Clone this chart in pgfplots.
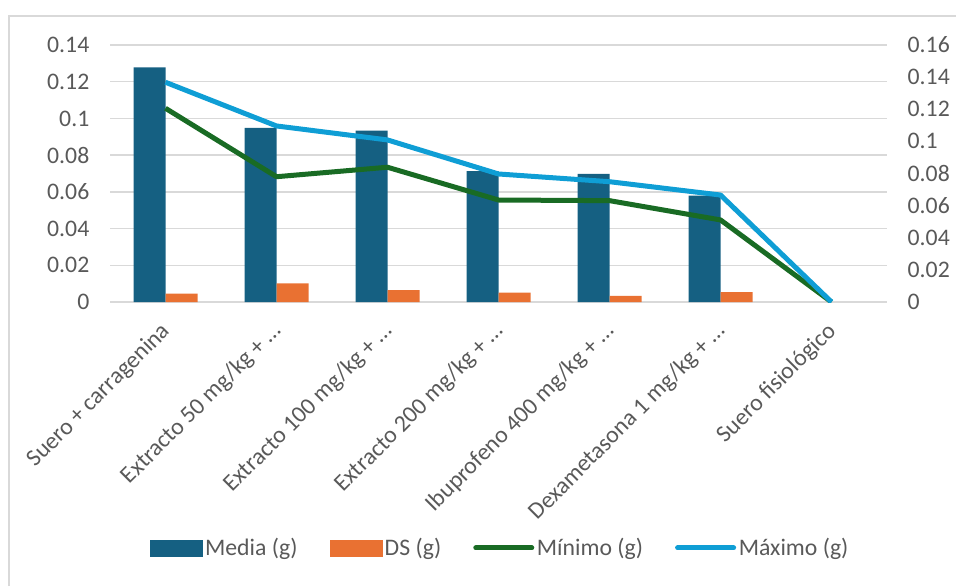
\documentclass[border=0pt]{standalone}
\usepackage{pgfplots}
\pgfplotsset{compat=1.18}
\usepackage{fontspec}
\setmainfont{Carlito}
\definecolor{mediacol}{HTML}{156082}
\definecolor{dscol}{HTML}{E97132}
\definecolor{mincol}{HTML}{196B24}
\definecolor{maxcol}{HTML}{0F9ED5}
\definecolor{txtcol}{HTML}{595959}
\definecolor{gridcol}{HTML}{D9D9D9}
\begin{document}
\begin{tikzpicture}
\path[use as bounding box] (0,0) rectangle (717pt,439.5pt);
\draw[gridcol, line width=0.9pt] (6.75pt,0pt) -- (6.75pt,427.5pt) -- (717pt,427.5pt);
\pgfplotsset{
  every axis/.append style={
    scale only axis, width=582.75pt, height=192.75pt,
    at={(82.5pt,213pt)}, anchor=south west,
    xmin=-0.5, xmax=6.5,
    font=\fontsize{17.8}{20}\selectfont,
    tick label style={text=txtcol},
    /pgf/number format/assume math mode=true,
    major tick length=0pt,
    scaled y ticks=false,
    axis line style={draw=none},
  }
}
\begin{axis}[
  axis y line*=left, axis x line*=bottom,
  ymin=0, ymax=0.14, ytick={0,0.02,...,0.14},
  yticklabel style={/pgf/number format/fixed, /pgf/number format/precision=2},
  ymajorgrids, grid style={gridcol, line width=1pt},
  ybar=0pt, bar width=24pt,
  xtick={0,...,6},
  xticklabels={Suero + carragenina, Extracto 50 mg/kg + …, Extracto 100 mg/kg + …, Extracto 200 mg/kg + …, Ibuprofeno 400 mg/kg + …, Dexametasona 1 mg/kg + …, Suero fisiológico},
  xticklabel style={rotate=45, anchor=east, xshift=-9.6pt, yshift=-14.4pt},
  yticklabel style={xshift=-12pt},
]
\addplot[fill=mediacol, draw=none] coordinates {(0,0.1278) (1,0.0948) (2,0.0934) (3,0.0713) (4,0.0698) (5,0.0579)};
\addplot[fill=dscol, draw=none] coordinates {(0,0.0045) (1,0.0102) (2,0.0065) (3,0.0051) (4,0.0034) (5,0.0054)};
\end{axis}
\begin{axis}[
  axis y line*=right, hide x axis,
  ymin=0, ymax=0.16, ytick={0,0.02,...,0.16},
  yticklabel style={/pgf/number format/fixed, /pgf/number format/precision=2, xshift=12pt},
  legend style={draw=none, fill=none, at={(0.5026,-0.957)}, anchor=center,
    font=\fontsize{17.8}{20}\selectfont, text=txtcol,
    /tikz/every even column/.append style={column sep=22pt},
    legend cell align=left},
  legend columns=4,
]
\addlegendimage{legend image code/.code={\fill[mediacol] (0pt,-6pt) rectangle (39pt,6pt);}}
\addlegendentry{Media (g)}
\addlegendimage{legend image code/.code={\fill[dscol] (0pt,-6pt) rectangle (39pt,6pt);}}
\addlegendentry{DS (g)}
\addplot[mincol, line width=3.75pt, line join=round, mark=none,
  legend image code/.code={\draw[mincol, line width=3.75pt, line cap=round] (0pt,0pt) -- (42pt,0pt);}]
  coordinates {(0,0.1206) (1,0.0780) (2,0.0839) (3,0.0635) (4,0.0631) (5,0.0511) (6,0)};
\addlegendentry{Mínimo (g)}
\addplot[maxcol, line width=3.75pt, line join=round, mark=none,
  legend image code/.code={\draw[maxcol, line width=3.75pt, line cap=round] (0pt,0pt) -- (42pt,0pt);}]
  coordinates {(0,0.1368) (1,0.1096) (2,0.1009) (3,0.0797) (4,0.0749) (5,0.0666) (6,0)};
\addlegendentry{Máximo (g)}
\end{axis}
\end{tikzpicture}
\end{document}
